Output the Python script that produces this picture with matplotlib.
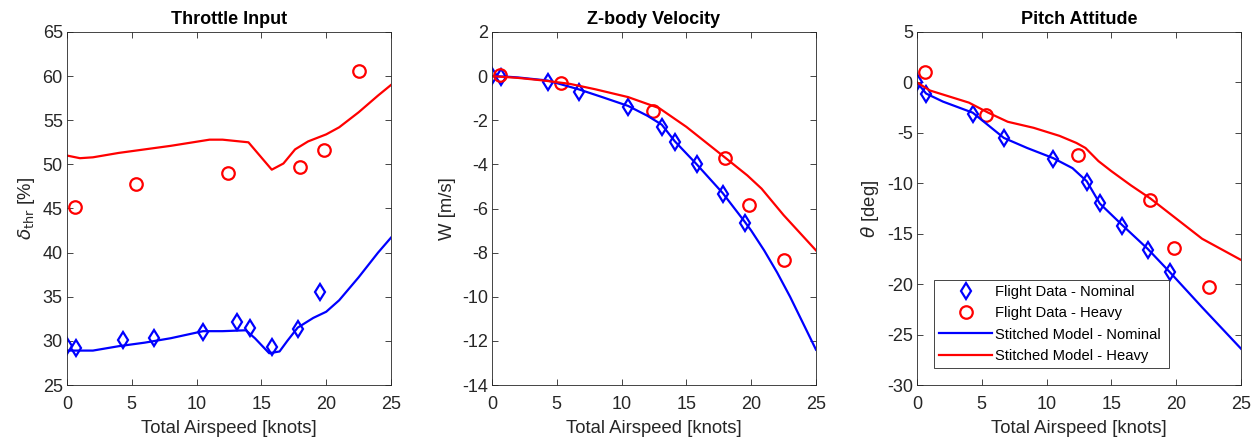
import numpy as np
import matplotlib
matplotlib.use("Agg")
import matplotlib.pyplot as plt

plt.rcParams['font.family'] = ['Liberation Sans', 'DejaVu Sans']
plt.rcParams['mathtext.fontset'] = 'dejavusans'
plt.rcParams['axes.unicode_minus'] = False

# flight data airspeeds [knots]
x_nom = [0.0, 0.7, 4.3, 6.7, 10.5, 13.1, 14.1, 15.8, 17.8, 19.5]
x_hvy = [0.6, 5.3, 12.4, 18.0, 19.8, 22.5]

# throttle [%]
thr_nom = [29.4, 29.2, 30.1, 30.3, 31.0, 32.1, 31.5, 29.3, 31.3, 35.5]
thr_hvy = [45.2, 47.8, 49.0, 49.7, 51.6, 60.6]
thr_mx_nom = [0, 1, 2, 4, 6, 8, 10.5, 12, 13.8, 14.5, 15.6, 16.4, 17.0, 17.8, 19, 20, 21, 22.5, 24, 25]
thr_my_nom = [28.9, 28.9, 28.9, 29.4, 29.8, 30.3, 31.1, 31.1, 31.2, 30.3, 28.6, 28.8, 30.0, 31.5, 32.6, 33.3, 34.6, 37.2, 40.0, 41.7]
thr_mx_hvy = [0, 1, 2, 4, 6, 8, 11, 12, 14, 15.8, 16.7, 17.6, 18.6, 20, 21, 22.5, 24, 25]
thr_my_hvy = [51.0, 50.7, 50.8, 51.3, 51.7, 52.1, 52.8, 52.8, 52.5, 49.4, 50.1, 51.7, 52.6, 53.4, 54.2, 55.9, 57.8, 59.0]

# z-body velocity [m/s]
w_nom = [0.0, -0.05, -0.25, -0.7, -1.4, -2.3, -3.0, -4.0, -5.35, -6.65]
w_hvy = [0.05, -0.3, -1.6, -3.7, -5.85, -8.35]
w_mx_nom = [0, 1, 2, 4.3, 6.7, 8.5, 10.5, 12, 13.1, 14.1, 15.8, 17.8, 19.5, 20, 21, 22, 23, 24, 25]
w_my_nom = [0.0, -0.02, -0.06, -0.2, -0.6, -0.95, -1.35, -1.8, -2.2, -2.95, -4.0, -5.3, -6.6, -7.0, -7.9, -8.9, -10.0, -11.2, -12.4]
w_mx_hvy = [0, 2, 4, 6, 8, 10.5, 12.9, 15, 16.5, 18, 19.7, 20.8, 22.5, 25]
w_my_hvy = [0.0, -0.08, -0.2, -0.35, -0.6, -0.95, -1.45, -2.3, -3.0, -3.7, -4.5, -5.1, -6.3, -7.9]

# pitch attitude [deg]
th_nom = [0.0, -1.1, -3.1, -5.5, -7.6, -9.9, -12.0, -14.2, -16.6, -18.8]
th_hvy = [1.0, -3.2, -7.2, -11.7, -16.4, -20.3]
th_mx_nom = [0, 0.7, 2, 4.3, 6.7, 8.5, 10.5, 12, 13.1, 14.1, 15.8, 17.8, 19.5, 22, 25]
th_my_nom = [0.0, -1.1, -1.9, -3.0, -5.5, -6.5, -7.5, -8.5, -9.8, -12.0, -14.1, -16.5, -18.8, -22.3, -26.4]
th_mx_hvy = [0, 1, 2.5, 4, 5.5, 7, 9, 11, 12.3, 13, 14, 15, 16.5, 18, 20, 22, 25]
th_my_hvy = [0.0, -0.8, -1.4, -2.0, -3.0, -3.9, -4.5, -5.3, -6.0, -6.5, -7.8, -8.8, -10.2, -11.5, -13.5, -15.5, -17.6]

titles = ['Throttle Input', 'Z-body Velocity', 'Pitch Attitude']
ylabels = [r'$\delta_{\rm thr}$ [%]', 'W [m/s]', r'$\theta$ [deg]']
ylims = [(25, 65), (-14, 2), (-30, 5)]
yticks = [np.arange(25, 66, 5), np.arange(-14, 3, 2), np.arange(-30, 6, 5)]

data = [
    (thr_nom, thr_hvy, thr_mx_nom, thr_my_nom, thr_mx_hvy, thr_my_hvy),
    (w_nom, w_hvy, w_mx_nom, w_my_nom, w_mx_hvy, w_my_hvy),
    (th_nom, th_hvy, th_mx_nom, th_my_nom, th_mx_hvy, th_my_hvy),
]

fig = plt.figure(figsize=(12.56, 4.42), dpi=100)
lefts = [67, 492, 917]
W, H = 1256, 442
axes = []
for i in range(3):
    ax = fig.add_axes([lefts[i] / W, (H - 385) / H, 324 / W, 353 / H])
    axes.append(ax)
    yn, yh, mxn, myn, mxh, myh = data[i]
    ax.plot(x_nom, yn, 'd', color='blue', mfc='none', mew=1.6, ms=8,
            label='Flight Data - Nominal')
    ax.plot(x_hvy, yh, 'o', color='red', mfc='none', mew=1.6, ms=9,
            label='Flight Data - Heavy')
    ax.plot(mxn, myn, '-', color='blue', lw=1.6, label='Stitched Model - Nominal')
    ax.plot(mxh, myh, '-', color='red', lw=1.6, label='Stitched Model - Heavy')
    ax.set_xlim(0, 25)
    ax.set_ylim(*ylims[i])
    ax.set_xticks(np.arange(0, 26, 5))
    ax.set_yticks(yticks[i])
    ax.set_title(titles[i], fontsize=13, fontweight='bold', pad=6)
    ax.set_xlabel('Total Airspeed [knots]', fontsize=13.3, color='0.15', labelpad=5)
    ax.set_ylabel(ylabels[i], fontsize=13.3, color='0.15', labelpad=4)
    ax.tick_params(direction='in', top=True, right=True, labelsize=13,
                   colors='0.15', length=4, width=0.6, pad=3)
    ax.tick_params(axis='x', pad=8)
    for s in ax.spines.values():
        s.set_color('0.15')
        s.set_linewidth(0.6)

leg = axes[2].legend(loc='lower left', bbox_to_anchor=(0.052, 0.048, 0.726, 0.247),
                     mode='expand', fontsize=10.6, fancybox=False, framealpha=1,
                     edgecolor='0.15', handlelength=3.6, borderpad=0.35,
                     labelspacing=0.5, handletextpad=0.2, borderaxespad=0)
leg.get_frame().set_linewidth(0.6)

fig.savefig('out.png', dpi=100)
